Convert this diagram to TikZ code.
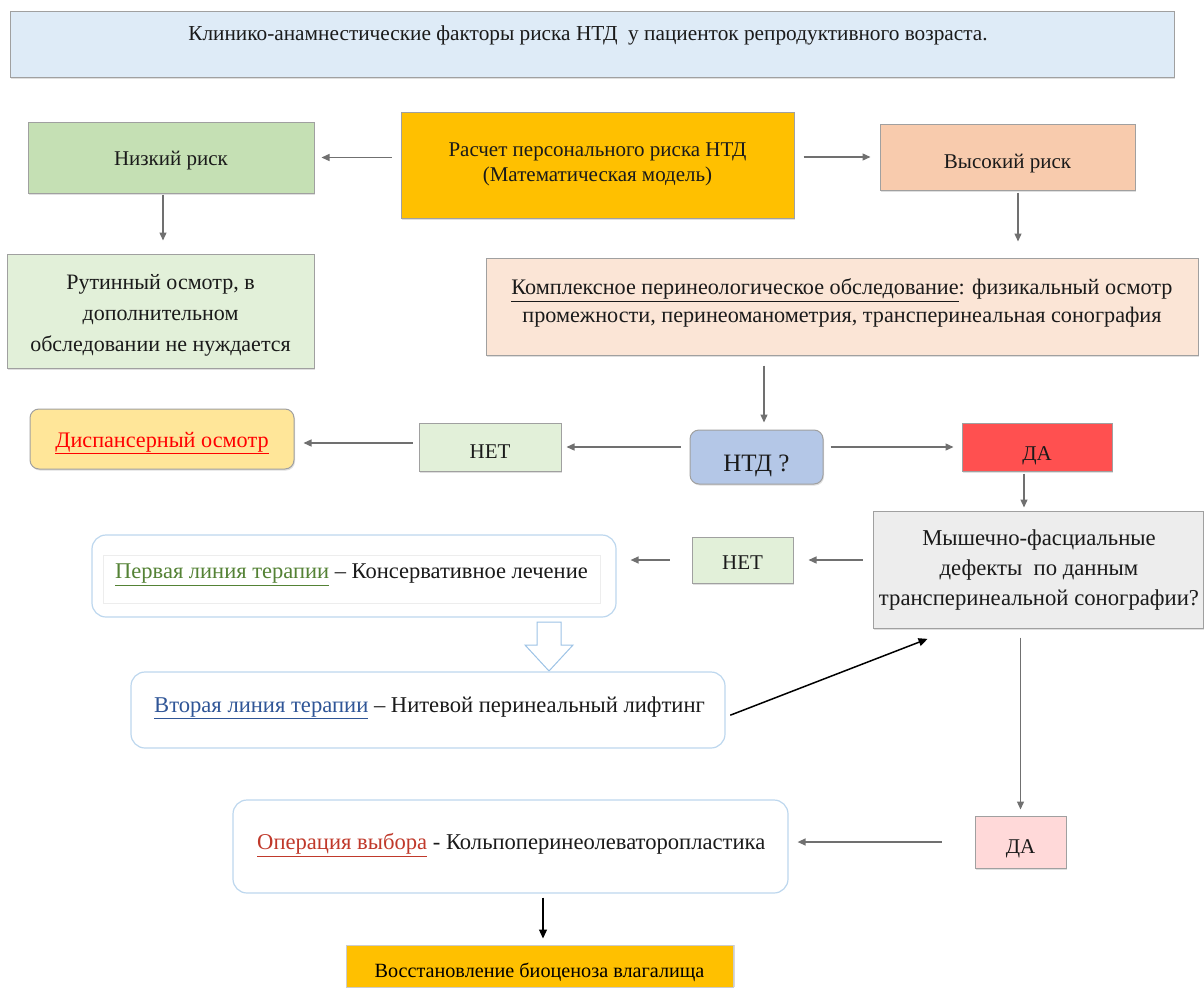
\documentclass[tikz,border=0pt]{standalone}
\usepackage{fontspec}
\setmainfont{Liberation Serif}
\usetikzlibrary{arrows.meta,shadows}
\definecolor{bordergray}{HTML}{A0A0A0}
\definecolor{arrowgray}{HTML}{707070}
\definecolor{bannerfill}{HTML}{DEEBF7}
\definecolor{lowfill}{HTML}{C5E0B4}
\definecolor{calcfill}{HTML}{FFC000}
\definecolor{highfill}{HTML}{F8CBAD}
\definecolor{routfill}{HTML}{E2F0D9}
\definecolor{compfill}{HTML}{FBE5D6}
\definecolor{dispfill}{HTML}{FFE699}
\definecolor{ntdfill}{HTML}{B4C7E7}
\definecolor{dafill}{HTML}{FF5050}
\definecolor{deffill}{HTML}{EDEDED}
\definecolor{dapink}{HTML}{FFD9D9}
\definecolor{lightblue}{HTML}{BDD7EE}
\definecolor{arrowblue}{HTML}{9DC3E6}
\definecolor{txt}{HTML}{1A1A1A}
\definecolor{redtxt}{HTML}{FF0000}
\definecolor{darkred}{HTML}{C0392B}
\definecolor{greentxt}{HTML}{548235}
\definecolor{bluetxt}{HTML}{2F5597}
\newcommand{\myfs}[2]{\fontsize{#1}{#2}\selectfont}
\begin{document}
\begin{tikzpicture}[x=1pt,y=-1pt,
  box/.style={draw=bordergray, line width=1pt, inner sep=0pt, text=txt,
     drop shadow={shadow xshift=1pt,shadow yshift=-1.5pt,fill=black!25}},
  rbox/.style={box, rounded corners=9pt},
  tbox/.style={draw=lightblue, line width=1.2pt, fill=white, rounded corners=14pt, inner sep=0pt},
  lbl/.style={inner sep=0pt, text=txt, align=center},
  lift/.style={text depth=0pt, text height=#1},
  arr/.style={-{Triangle[length=8pt,width=7pt]}, draw=arrowgray, line width=1.3pt},
  barr/.style={-{Triangle[length=9pt,width=8pt]}, draw=black, line width=1.5pt}
]
\useasboundingbox (0,0) rectangle (1204,990);

% banner
\node[box, fill=bannerfill, minimum width=1164pt, minimum height=65pt] (banner) at (592,44.5) {};
\node[lbl, font=\myfs{21.3}{25}] (bannertxt) at (588,35) {Клинико-анамнестические факторы риска НТД\ \ у пациенток репродуктивного возраста.};

% row 1
\node[box, fill=lowfill, minimum width=286pt, minimum height=71pt, font=\myfs{21}{25}, lift=16.5pt] (low) at (171,157.5) {Низкий риск};
\node[box, fill=calcfill, minimum width=393pt, minimum height=106pt] (calc) at (597.5,165) {};
\node[lbl, font=\myfs{21}{25}] (calctxt) at (597.5,164) {Расчет персонального риска НТД\\(Математическая модель)};
\node[box, fill=highfill, minimum width=255pt, minimum height=66pt, font=\myfs{21}{25}, lift=22.5pt] (high) at (1007.5,157) {Высокий риск};

% row 2
\node[box, fill=routfill, minimum width=307pt, minimum height=114pt] (rout) at (160.5,311) {};
\node[lbl, font=\myfs{22}{31}] (routtxt) at (160.5,315) {Рутинный осмотр, в\\дополнительном\\обследовании не нуждается};
\node[box, fill=compfill, minimum width=712pt, minimum height=97pt] (comp) at (842,306.5) {};
\node[lbl, font=\myfs{22.2}{28}] (comptxt) at (842,303) {\underline{Комплексное перинеологическое обследование}: физикальный осмотр\\промежности, перинеоманометрия, трансперинеальная сонография};

% row 3
\node[rbox, fill=dispfill, minimum width=264pt, minimum height=60pt, font=\myfs{22.2}{25}, lift=17pt] (disp) at (162,439) {\textcolor{redtxt}{\underline{Диспансерный осмотр}}};
\node[box, fill=routfill, minimum width=142pt, minimum height=48pt, font=\myfs{21}{25}, lift=22.5pt] (net1) at (490,447) {НЕТ};
\node[rbox, fill=ntdfill, minimum width=133pt, minimum height=54pt, font=\myfs{25}{25}, lift=28pt] (ntd) at (756.5,457) {НТД ?};
\node[box, fill=dafill, minimum width=150pt, minimum height=48pt, font=\myfs{21}{25}, lift=27pt] (da1) at (1037,447) {ДА};

% row 4
\node[box, fill=deffill, minimum width=330pt, minimum height=117pt] (def) at (1038,569.5) {};
\node[lbl, font=\myfs{22.7}{30}] (deftxt) at (1039,570.5) {Мышечно-фасциальные\\дефекты\ \ по данным\\трансперинеальной сонографии?};
\node[box, fill=routfill, minimum width=101pt, minimum height=46pt, font=\myfs{21}{25}, lift=18.5pt] (net2) at (742.5,560) {НЕТ};
\node[tbox, minimum width=524pt, minimum height=82pt] (first) at (354,576) {};
\node[draw=black!7, line width=0.6pt, inner sep=0pt, minimum width=497pt, minimum height=48pt] (firstin) at (351.5,579) {};
\node[lbl, anchor=west, font=\myfs{22.5}{25}] (firsttxt) at (115,575) {\textcolor{greentxt}{\underline{Первая линия терапии}} – Консервативное лечение};

% hollow arrow
\draw[draw=arrowblue, line width=1pt, fill=white] (537,622) -- (561,622) -- (561,645) -- (573,645) -- (549,671) -- (525,645) -- (537,645) -- cycle;

\node[tbox, minimum width=594pt, minimum height=76pt] (second) at (428,710) {};
\node[lbl, anchor=west, font=\myfs{22.6}{25}] (secondtxt) at (154,708) {\textcolor{bluetxt}{\underline{Вторая линия терапии}} – Нитевой перинеальный лифтинг};

% bottom
\node[box, fill=dapink, minimum width=91pt, minimum height=52pt, font=\myfs{21}{25}, lift=22.5pt] (da2) at (1020.5,842) {ДА};
\node[tbox, minimum width=555pt, minimum height=93pt] (op) at (510.5,846.5) {};
\node[lbl, anchor=west, font=\myfs{22.6}{25}] (optxt) at (257,845) {\textcolor{darkred}{\underline{Операция выбора}} - Кольпоперинеолеваторопластика};
\node[draw=black!20, line width=1pt, fill=calcfill, inner sep=0pt, minimum width=387pt, minimum height=42pt, font=\myfs{20.2}{24}, lift=22pt,
  drop shadow={shadow xshift=2pt,shadow yshift=0pt,fill=black!30}] (rest) at (539.5,966) {Восстановление биоценоза влагалища};

% connectors
\draw[arr, shorten <=9pt, shorten >=7pt] (calc.west |- low.east) -- (low.east);
\draw[arr, shorten <=9pt, shorten >=9pt] (calc.east |- high.west) -- (high.west);
\draw[arr, shorten <=1pt, shorten >=13pt] ([xshift=-8pt]low.south) -- ([xshift=-8pt]low.south |- rout.north);
\draw[arr, shorten <=2pt, shorten >=16pt] ([xshift=10.5pt]high.south) -- ([xshift=10.5pt]high.south |- comp.north);
\draw[arr, shorten <=10pt, shorten >=7pt] ([xshift=7.5pt]ntd.north |- comp.south) -- ([xshift=7.5pt]ntd.north);
\draw[arr, shorten <=9pt, shorten >=5pt] (ntd.west |- net1.east) -- (net1.east);
\draw[arr, shorten <=6pt, shorten >=9pt] ([yshift=4pt]net1.west) -- ([yshift=4pt]net1.west -| disp.east);
\draw[arr, shorten <=7pt, shorten >=8pt] (ntd.east |- da1.west) -- (da1.west);
\draw[arr, shorten <=2pt, shorten >=3pt] ([xshift=-13pt]da1.south) -- ([xshift=-13pt]da1.south |- def.north);
\draw[arr, shorten <=10pt, shorten >=15pt] (def.west |- net2.east) -- (net2.east);
\draw[arr, shorten <=22pt, shorten >=14pt] (net2.west) -- (net2.west -| first.east);
\draw[barr, shorten <=5pt, shorten >=1pt] ([yshift=-7pt]second.east) -- ([xshift=56pt,yshift=-10pt]def.south west);
\draw[arr, shorten <=9pt, shorten >=6pt] (da2.north |- def.south) -- (da2.north);
\draw[arr, shorten <=33pt, shorten >=9pt] (da2.west) -- (da2.west -| op.east);
\draw[barr, line width=1.3pt, shorten <=4pt, shorten >=6pt] ([xshift=3.5pt]rest.north |- op.south) -- ([xshift=3.5pt]rest.north);
\end{tikzpicture}
\end{document}
